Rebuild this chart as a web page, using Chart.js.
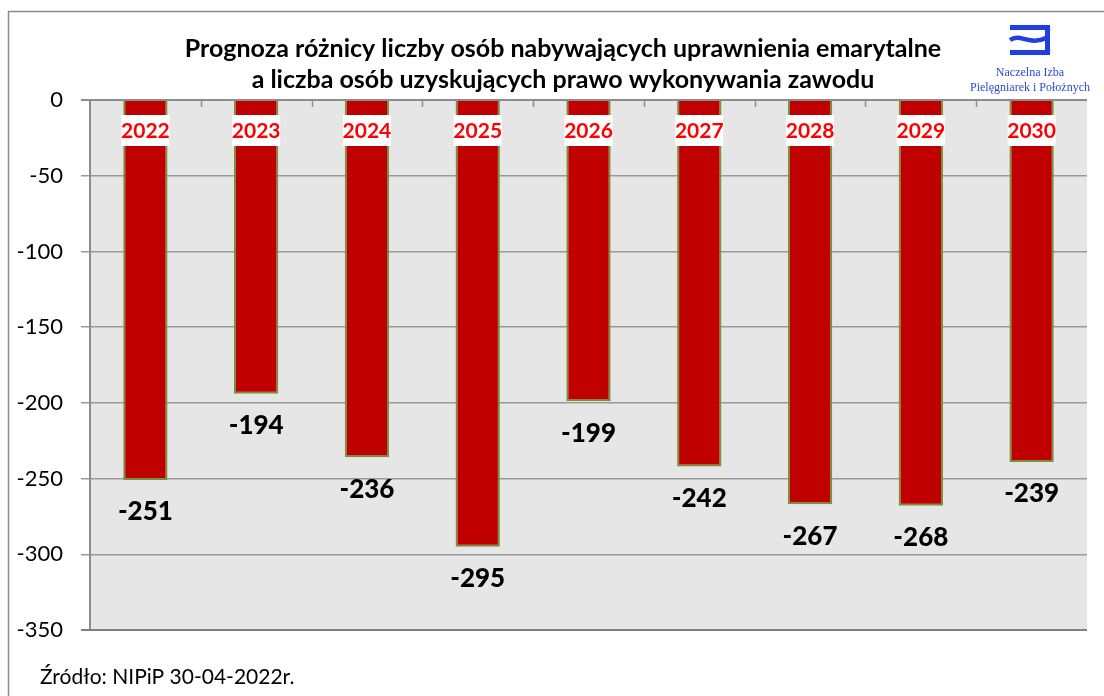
<!DOCTYPE html>
<html><head><meta charset="utf-8">
<script src="https://cdn.jsdelivr.net/npm/chart.js@4/dist/chart.umd.min.js"></script>
<style>html,body{margin:0;padding:0;background:#fff}#wrap{width:1104px;height:696px;position:relative}</style>
</head><body><div id="wrap"><canvas id="c" width="1104" height="696"></canvas></div>
<script>
const categories = ['2022','2023','2024','2025','2026','2027','2028','2029','2030'];
const values = [-251,-194,-236,-295,-199,-242,-267,-268,-239];
const yTicks = {min:-350, max:0, step:50};
const titleLines = ['Prognoza różnicy liczby osób nabywających uprawnienia emarytalne','a liczba osób uzyskujących prawo wykonywania zawodu'];
const sourceText = 'Źródło: NIPiP 30-04-2022r.';
const logoLines = ['Naczelna Izba','Pielęgniarek i Położnych'];

const FONT = 'Lato, "Open Sans", sans-serif';

const deco = {
  id:'deco',
  beforeDraw(chart){
    const {ctx, chartArea:a} = chart;
    ctx.save();
    ctx.fillStyle='#fff'; ctx.fillRect(0,0,chart.width,chart.height);
    ctx.fillStyle='#e6e6e6'; ctx.fillRect(a.left,a.top,a.right-a.left,a.bottom-a.top);
    ctx.strokeStyle='#8c8c8c'; ctx.lineWidth=1.5;
    ctx.strokeRect(8.5,11.5,1200,800);
    ctx.restore();
  },
  afterDraw(chart){
    const {ctx, chartArea:a} = chart;
    ctx.save();
    ctx.strokeStyle='#8c8c8c'; ctx.lineWidth=2;
    ctx.beginPath(); ctx.moveTo(81,a.top); ctx.lineTo(a.right,a.top); ctx.stroke();
    const n = categories.length;
    const w = (a.right-a.left)/n;
    ctx.lineWidth=1.5;
    for(let i=1;i<n;i++){
      const px = Math.round(a.left+w*i)+0.5;
      ctx.beginPath(); ctx.moveTo(px,a.top); ctx.lineTo(px,a.top+7); ctx.stroke();
    }
    ctx.strokeStyle='#7f7f7f'; ctx.lineWidth=2;
    ctx.beginPath(); ctx.moveTo(81,a.bottom); ctx.lineTo(a.right,a.bottom); ctx.stroke();
    // title
    ctx.fillStyle='#000'; ctx.textAlign='center'; ctx.textBaseline='alphabetic';
    ctx.font='bold 25px '+FONT;
    ctx.fillText(titleLines[0],563,57);
    ctx.fillText(titleLines[1],563,88);
    // source
    ctx.textAlign='left'; ctx.font='21px '+FONT;
    ctx.fillText(sourceText,40,684);
    // logo
    ctx.fillStyle='#1f3fe0'; ctx.strokeStyle='#1f3fe0';
    ctx.fillRect(1010,25,40,5);
    ctx.fillRect(1010,50,40,5);
    ctx.fillRect(1045,25,5,30);
    ctx.lineWidth=4.5;
    ctx.beginPath();
    ctx.moveTo(1010,40);
    ctx.bezierCurveTo(1020,33,1030,46,1046,38);
    ctx.stroke();
    ctx.textAlign='center'; ctx.textBaseline='middle'; ctx.font='12px "Liberation Serif", "DejaVu Serif", serif';
    ctx.fillStyle='#2a4ad8';
    ctx.fillText(logoLines[0],1030,73);
    ctx.fillText(logoLines[1],1030,88);
    ctx.restore();
  },
  afterDatasetsDraw(chart){
    const {ctx} = chart;
    const meta = chart.getDatasetMeta(0);
    ctx.save();
    ctx.textAlign='center'; ctx.textBaseline='middle';
    meta.data.forEach((bar,i)=>{
      ctx.fillStyle='#000'; ctx.font='900 26px '+FONT;
      ctx.fillText(String(values[i]), bar.x, bar.y+32);
      ctx.fillStyle='#fff';
      ctx.fillRect(bar.x-24,115,48,31);
      ctx.fillStyle='#ff0000'; ctx.font='bold 21px '+FONT;
      ctx.fillText(categories[i], bar.x, 131);
    });
    ctx.restore();
  }
};

new Chart(document.getElementById('c'),{
  type:'bar',
  data:{labels:categories, datasets:[{data:values, backgroundColor:'#c00000', borderColor:'#76923c', borderWidth:2, barPercentage:0.4, categoryPercentage:1.0}]},
  options:{
    responsive:false, animation:false, devicePixelRatio:1,
    layout:{padding:{top:100,left:0,right:17,bottom:66}},
    plugins:{legend:{display:false}, title:{display:false}, tooltip:{enabled:false}},
    scales:{
      x:{display:false},
      y:{
        min:yTicks.min, max:yTicks.max,
        afterFit(s){ s.width = 90; },
        ticks:{stepSize:yTicks.step, color:'#000', font:{family:FONT, size:22}, padding:18},
        grid:{color:'#999999', lineWidth:1.5, tickLength:9, drawTicks:true},
        border:{display:true, color:'#8c8c8c', width:2}
      }
    }
  },
  plugins:[deco]
});
</script></body></html>
